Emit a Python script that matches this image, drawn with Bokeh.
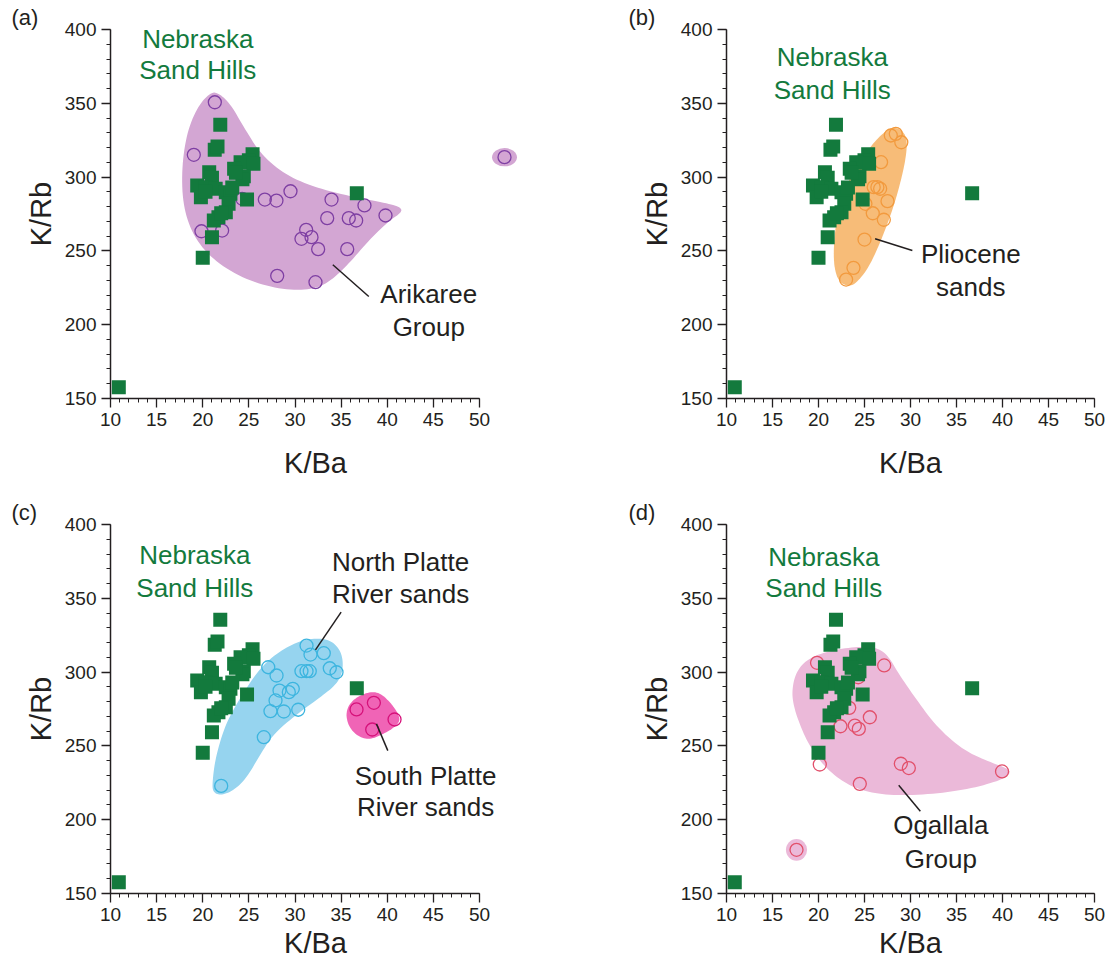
from bokeh.plotting import figure
from bokeh.models import Label, FixedTicker, Range1d, LinearAxis
from bokeh.layouts import gridplot
from bokeh.embed import file_html
from bokeh.resources import INLINE

FONT = "Liberation Sans"
GREEN = "#137a3d"
INK = "#231f20"

# ---------------- data (K/Ba, K/Rb) ----------------
# Nebraska Sand Hills (green squares, same in all panels)
sand_x = [10.9, 21.9, 21.3, 21.6, 25.4, 25.0, 24.1, 23.4, 25.5, 24.45, 24.3, 23.6,
          20.7, 21.0, 19.4, 20.3, 19.8, 21.4, 20.3, 22.5, 23.0, 22.8, 22.5, 21.7,
          21.2, 24.8, 21.0, 20.0, 36.7, 23.2, 22.0]
sand_y = [157.7, 335.4, 318.5, 320.8, 315.5, 311.5, 310.1, 305.6, 309.0, 300.5, 298.5, 303.0,
          303.3, 299.5, 294.3, 293.2, 286.4, 292.1, 290.0, 289.8, 288.7, 281.9, 276.2, 272.8,
          270.6, 284.8, 259.3, 245.3, 289.1, 293.0, 275.5]

# (a) Arikaree Group
ari_x = [21.31, 19.03, 52.71, 29.51, 26.73, 27.99, 33.96, 24.28, 37.53, 39.81, 33.49,
         35.83, 36.63, 31.21, 30.7, 31.79, 32.51, 35.66, 28.07, 32.22, 19.86, 22.1]
ari_y = [350.7, 315.1, 313.5, 290.4, 284.8, 284.1, 284.8, 285.3, 280.8, 274.0, 272.2,
         272.2, 270.6, 264.3, 258.2, 259.3, 251.2, 251.2, 233.1, 228.8, 263.3, 263.8]
ari_hull_x = [20.84, 19.4, 18.24, 17.7, 17.88, 19.03, 21.2, 24.45, 28.07, 31.32, 33.49, 35.66,
              37.83, 40.0, 41.6, 41.44, 40.0, 36.37, 32.03, 28.79, 26.26, 24.45, 23.0, 21.74]
ari_hull_y = [357.5, 347.4, 329.3, 304.5, 279.6, 259.3, 243.5, 231.1, 224.3, 223.2, 227.7, 240.1,
              255.9, 269.4, 276.2, 279.6, 282.3, 286.4, 293.2, 302.2, 315.8, 333.8, 349.6, 356.9]
ari_blob_x = [52.71]
ari_blob_y = [313.5]
ari_blob_w = [2.7]
ari_blob_h = [12.4]

# (b) Pliocene sands
pli_x = [27.86, 28.4, 29.0, 26.8, 26.0, 26.4, 26.7, 27.5, 25.1, 25.9, 27.1, 25.0, 23.8, 23.0]
pli_y = [328.2, 329.3, 323.6, 310.1, 293.2, 293.2, 292.1, 283.7, 281.9, 275.5, 271.1, 257.7, 238.5, 230.6]
pli_hull_x = [28.4, 29.67, 29.49, 28.4, 26.96, 25.5, 24.05, 23.15, 22.07, 21.59, 21.8, 22.6, 24.05, 25.87, 27.32]
pli_hull_y = [334.3, 328.2, 311.2, 284.1, 259.3, 238.96, 227.7, 225.9, 229.9, 243.5, 266.1, 288.7, 306.7, 322.6, 331.6]

# (c) North Platte River sands
np_x = [31.25, 31.68, 33.12, 33.77, 34.5, 30.7, 31.25, 31.6, 27.1, 28.0, 28.32, 29.33,
        29.76, 27.89, 27.34, 28.79, 30.35, 26.62, 22.0]
np_y = [318.0, 311.9, 312.8, 302.6, 299.9, 300.6, 300.6, 300.6, 303.3, 297.7, 287.5, 286.4,
        288.7, 280.8, 273.5, 273.3, 274.5, 255.9, 222.9]
np_hull_x = [21.02, 21.38, 22.47, 24.09, 26.26, 28.43, 30.6, 32.76, 34.2, 35.11, 35.22, 34.57,
             32.76, 30.23, 27.7, 26.26, 24.82, 23.37, 21.92, 21.13]
np_hull_y = [224.3, 242.3, 264.9, 283.0, 303.3, 314.6, 321.4, 323.2, 320.3, 312.4, 301.1, 292.1,
             283.0, 271.7, 258.2, 244.6, 228.8, 219.8, 216.4, 218.6]

# (c) South Platte River sands
sp_x = [36.67, 38.55, 40.79, 38.37]
sp_y = [274.7, 279.2, 267.9, 261.1]
sp_hull_x = [35.47, 36.2, 37.83, 39.09, 40.35, 41.44, 41.08, 39.63, 38.18, 36.92, 35.83]
sp_hull_y = [272.8, 281.2, 286.4, 286.4, 279.6, 269.4, 263.8, 258.2, 254.3, 255.9, 262.7]

# (d) Ogallala Group
og_x = [19.84, 27.14, 24.32, 23.34, 25.58, 22.39, 23.95, 24.38, 20.14, 28.95, 29.82, 39.95, 24.49, 17.61]
og_y = [306.3, 304.5, 296.5, 275.8, 269.4, 263.3, 263.8, 261.5, 237.4, 237.9, 235.0, 232.7, 224.3, 179.6]
og_hull_x = [17.12, 17.48, 18.57, 20.57, 23.47, 26.0, 27.45, 28.72, 30.71, 32.88, 35.78, 38.66,
             40.66, 40.84, 39.75, 36.49, 32.14, 27.79, 24.9, 22.68, 20.51, 18.88, 17.79, 17.25]
og_hull_y = [287.5, 298.8, 307.9, 313.5, 316.9, 317.3, 312.4, 298.8, 280.8, 262.7, 246.9, 239.0,
             234.5, 231.1, 226.6, 220.9, 217.1, 216.4, 219.3, 225.4, 236.7, 251.4, 267.2, 278.5]
og_blob_x = [17.61]
og_blob_y = [179.6]
og_blob_w = [2.3]
og_blob_h = [14.7]

x_ticks = [10, 15, 20, 25, 30, 35, 40, 45, 50]
y_ticks = [150, 200, 250, 300, 350, 400]
x_title = "K/Ba"
y_title = "K/Rb"


def smooth(xs, ys, n=3):
    pts = list(zip(xs, ys))
    for _ in range(n):
        new = []
        m = len(pts)
        for i in range(m):
            a = pts[i]
            b = pts[(i + 1) % m]
            new.append((0.75 * a[0] + 0.25 * b[0], 0.75 * a[1] + 0.25 * b[1]))
            new.append((0.25 * a[0] + 0.75 * b[0], 0.25 * a[1] + 0.75 * b[1]))
        pts = new
    return [q[0] for q in pts], [q[1] for q in pts]


def label_axis(text, bounds, standoff, line_height=1.2):
    ax = LinearAxis(axis_label=text, ticker=FixedTicker(ticks=[]), bounds=bounds)
    ax.axis_line_color = None
    ax.major_tick_line_color = None
    ax.minor_tick_line_color = None
    ax.major_tick_out = 0
    ax.major_tick_in = 0
    ax.minor_tick_out = 0
    ax.minor_tick_in = 0
    ax.major_label_standoff = 0
    ax.major_label_text_font_size = "1px"
    ax.axis_label_standoff = standoff
    ax.axis_label_text_font = FONT
    ax.axis_label_text_font_size = "29px"
    ax.axis_label_text_font_style = "normal"
    ax.axis_label_text_color = INK
    ax.axis_label_text_line_height = line_height
    return ax


def make_fig(tag, xs, width, bl, br, height, bt, bb, title_offset, xlab_standoff, xlab_lh):
    xend = 10 + (width - bl - br) / xs
    p = figure(width=width, height=height, min_border_left=bl, min_border_right=br,
               min_border_top=bt, min_border_bottom=bb,
               x_range=Range1d(10, xend), y_range=Range1d(150, 400),
               output_backend="svg", toolbar_location=None, tools="",
               title="(" + tag + ")")
    p.title.text_font = FONT
    p.title.text_font_size = "22px"
    p.title.text_font_style = "normal"
    p.title.text_color = INK
    p.title.align = "left"
    p.title.offset = title_offset
    p.title.standoff = 0
    p.outline_line_color = None
    p.grid.visible = False
    p.xaxis.ticker = FixedTicker(ticks=x_ticks, minor_ticks=list(range(10, 51)))
    p.yaxis.ticker = FixedTicker(ticks=y_ticks, minor_ticks=list(range(150, 401, 10)))
    p.xaxis.bounds = (10, 50)
    p.yaxis.bounds = (150, 400)
    for ax in (p.xaxis, p.yaxis):
        ax.axis_line_width = 1.5
        ax.axis_line_color = INK
        ax.major_tick_line_color = INK
        ax.minor_tick_line_color = INK
        ax.major_tick_line_width = 1.3
        ax.minor_tick_line_width = 1
        ax.major_tick_out = 9
        ax.major_tick_in = 0
        ax.minor_tick_out = 4
        ax.minor_tick_in = 0
        ax.major_label_text_font = FONT
        ax.major_label_text_font_size = "19px"
        ax.major_label_text_color = INK
        ax.major_label_standoff = 5
    p.add_layout(label_axis(x_title, (10, 51.2), xlab_standoff, xlab_lh), "below")
    p.add_layout(label_axis(y_title, (190, 400), 5), "left")
    return p


def add_label(p, x, y, text, size, color=INK):
    p.add_layout(Label(x=x, y=y, text=text, text_font=FONT, text_font_size=size,
                       text_color=color, text_align="center", text_baseline="middle"))


def add_group(p, hx, hy, hull_color, cx, cy, circ_color):
    sx, sy = smooth(hx, hy)
    p.patch(sx, sy, fill_color=hull_color, line_color=None)
    p.scatter(cx, cy, marker="circle", size=13, fill_color=None,
              line_color=circ_color, line_width=1.3)


def add_sand(p, name_xy):
    p.scatter(sand_x, sand_y, marker="square", size=14, fill_color=GREEN, line_color=None)
    x, y1, y2 = name_xy
    add_label(p, x, y1, "Nebraska", "26px", GREEN)
    add_label(p, x, y2, "Sand Hills", "26px", GREEN)


# ---------- panel (a)
pa = make_fig("a", 9.225, 526, 110, 6, 495, 29, 97, -99, 18, 1.2)
ARI_FILL, ARI_LINE = "#d3a6d3", "#7e3fa3"
add_group(pa, ari_hull_x, ari_hull_y, ARI_FILL, [], [], ARI_LINE)
pa.ellipse(ari_blob_x, ari_blob_y, width=ari_blob_w, height=ari_blob_h,
           fill_color=ARI_FILL, line_color=None)
pa.scatter(ari_x, ari_y, marker="circle", size=13, fill_color=None, line_color=ARI_LINE, line_width=1.3)
add_sand(pa, (19.46, 393.7, 372.7))
pa.segment(x0=[34.1], y0=[240.6], x1=[38.0], y1=[219.1], line_color=INK, line_width=1.5)
add_label(pa, 44.5, 220.9, "Arikaree", "26px")
add_label(pa, 44.5, 198.3, "Group", "26px")

# ---------- panel (b)
pb = make_fig("b", 9.2, 582, 200, 14, 495, 29, 97, -98, 18, 1.2)
add_group(pb, pli_hull_x, pli_hull_y, "#f7bc78", pli_x, pli_y, "#f29a3e")
add_sand(pb, (21.5, 381.2, 358.7))
pb.segment(x0=[26.15], y0=[258.2], x1=[30.2], y1=[250.3], line_color=INK, line_width=1.5)
add_label(pb, 36.55, 248.2, "Pliocene", "26px")
add_label(pb, 36.55, 225.6, "sands", "26px")

# ---------- panel (c)
pc = make_fig("c", 9.225, 526, 110, 6, 471, 29, 73, -99, 3, 0.7)
add_group(pc, np_hull_x, np_hull_y, "#96d4ef", np_x, np_y, "#3db5df")
add_group(pc, sp_hull_x, sp_hull_y, "#f064b6", sp_x, sp_y, "#d6117a")
add_sand(pc, (19.14, 379.0, 357.1))
pc.segment(x0=[35.0, 38.83], y0=[340.6, 264.9], x1=[32.22, 40.06], y1=[315.1, 246.8],
           line_color=INK, line_width=1.5)
add_label(pc, 41.44, 374.5, "North Platte", "26px")
add_label(pc, 41.44, 353.0, "River sands", "26px")
add_label(pc, 44.15, 229.9, "South Platte", "26px")
add_label(pc, 44.15, 208.5, "River sands", "26px")

# ---------- panel (d)
pd_ = make_fig("d", 9.2, 582, 200, 14, 471, 29, 73, -98, 3, 0.7)
OG_FILL, OG_LINE = "#ebb9d9", "#e2506b"
add_group(pd_, og_hull_x, og_hull_y, OG_FILL, [], [], OG_LINE)
pd_.ellipse(og_blob_x, og_blob_y, width=og_blob_w, height=og_blob_h,
            fill_color=OG_FILL, line_color=None)
pd_.scatter(og_x, og_y, marker="circle", size=13, fill_color=None, line_color=OG_LINE, line_width=1.3)
add_sand(pd_, (20.58, 378.3, 357.1))
pd_.segment(x0=[28.72], y0=[223.3], x1=[31.07], y1=[205.7], line_color=INK, line_width=1.5)
add_label(pd_, 33.3, 196.1, "Ogallala", "26px")
add_label(pd_, 33.3, 173.5, "Group", "26px")

grid = gridplot([[pa, pb], [pc, pd_]], toolbar_location=None)

open("out.html", "w").write(file_html(grid, INLINE))
